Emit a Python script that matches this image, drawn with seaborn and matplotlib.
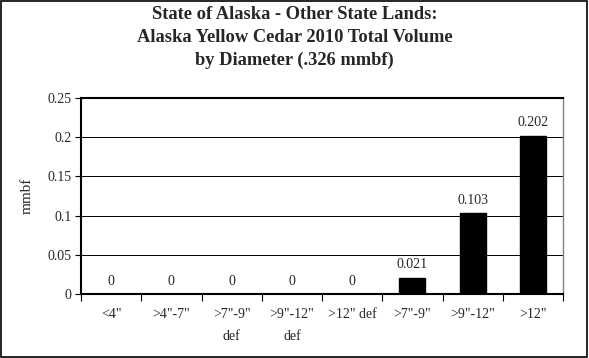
import matplotlib
matplotlib.use("Agg")
import matplotlib.pyplot as plt
import seaborn as sns
import pandas as pd
from matplotlib.patches import Rectangle

categories = ['<4"', '>4"-7"', '>7"-9"\ndef', '>9"-12"\ndef', '>12" def', '>7"-9"', '>9"-12"', '>12"']
values = [0, 0, 0, 0, 0, 0.021, 0.103, 0.202]
yticks = [0, 0.05, 0.1, 0.15, 0.2, 0.25]
ytick_labels = ['0', '0.05', '0.1', '0.15', '0.2', '0.25']
title = "State of Alaska - Other State Lands:\nAlaska Yellow Cedar 2010 Total Volume\nby Diameter (.326 mmbf)"

sns.set_style("white")
plt.rcParams['font.family'] = ['Liberation Serif', 'DejaVu Serif']

df = pd.DataFrame({"cat": categories, "val": values})

fig = plt.figure(figsize=(5.89, 3.58), dpi=100)
ax = fig.add_axes([81/589, 1 - 294/358, (563-81)/589, (294-98)/358])

sns.barplot(data=df, x="cat", y="val", color="black", width=0.43, ax=ax, zorder=3)
for p in ax.patches:
    p.set_facecolor("black")
    p.set_edgecolor("black")

ax.set_ylim(0, 0.25)
ax.set_xlim(-0.5, len(categories) - 0.5)
ax.set_yticks(yticks)
ax.set_yticklabels(ytick_labels, fontsize=10)
ax.yaxis.grid(True, color="black", linewidth=0.7, zorder=0)
ax.set_axisbelow(True)

ax.set_xticks([i - 0.5 for i in range(len(categories) + 1)], minor=False)
ax.set_xticklabels([])
ax.set_xticks(range(len(categories)), minor=True)
ax.set_xticklabels(categories, minor=True, fontsize=10, linespacing=1.9)
ax.tick_params(axis="x", which="major", length=5, width=0.8, direction="out", bottom=True, color="black")
ax.tick_params(axis="x", which="minor", length=0, pad=10)
ax.tick_params(axis="y", length=4, width=0.8, direction="out", left=True, color="black", pad=3)

for s in ["left", "bottom"]:
    ax.spines[s].set_color("black")
    ax.spines[s].set_linewidth(1.5)
ax.spines["top"].set_color("black")
ax.spines["top"].set_linewidth(1.5)
ax.spines["right"].set_color("#808080")
ax.spines["right"].set_linewidth(1)

ax.set_xlabel("")
ax.set_ylabel("mmbf", fontsize=11, labelpad=10)

for i, v in enumerate(values):
    ax.text(i, v + 0.008, f"{v:g}", ha="center", va="bottom", fontsize=10)

fig.text(0.5, 1 - 6/358, title, ha="center", va="top", fontsize=13.3, fontweight="bold", linespacing=1.45)

fig.patches.append(Rectangle((0.002, 0.003), 0.995, 0.994, transform=fig.transFigure,
                             fill=False, edgecolor="black", linewidth=1.2))

fig.savefig("out.png", dpi=100)
